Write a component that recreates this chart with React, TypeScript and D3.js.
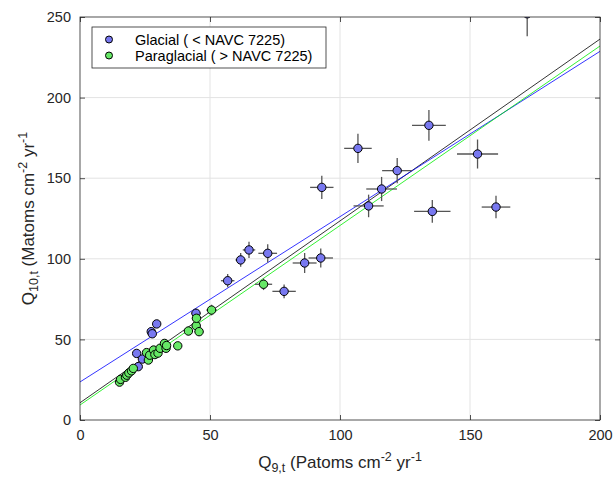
import React, { useRef, useEffect } from 'react';
import * as d3 from 'd3';

// glacial points: x, y, x error, y error
const glacialX = [21.8, 22.4, 24.0, 27.4, 27.8, 29.5, 44.6, 56.8, 61.8, 65.0, 72.2, 78.5, 86.4, 92.6, 93.0, 106.9, 111.0, 116.0, 122.0, 134.2, 135.5, 152.9, 160.0, 172.0];
const glacialY = [41.3, 33.1, 37.8, 54.8, 53.5, 59.6, 66.2, 86.4, 99.3, 105.5, 103.4, 79.8, 97.4, 100.5, 144.3, 168.5, 132.8, 143.3, 154.7, 182.8, 129.4, 165.0, 132.1, 252.0];
const glacialXErr = [1.0, 1.0, 1.0, 1.2, 1.2, 1.2, 1.8, 2.6, 2.0, 2.4, 3.6, 4.5, 4.6, 4.7, 4.5, 5.3, 5.8, 5.9, 5.8, 6.5, 7.0, 7.9, 5.5, 7.0];
const glacialYErr = [2.0, 2.0, 2.0, 2.5, 2.5, 2.5, 3.0, 4.1, 4.3, 5.0, 5.7, 4.3, 6.2, 5.9, 7.2, 9.0, 7.0, 7.5, 7.8, 9.5, 7.0, 9.0, 7.0, 14.0];

// paraglacial points
const paraX = [15.2, 15.6, 17.5, 18.0, 18.8, 19.8, 20.5, 25.6, 26.3, 26.8, 28.3, 28.8, 30.0, 30.8, 32.5, 33.1, 33.3, 37.6, 41.7, 44.7, 44.8, 45.8, 50.6, 70.6];
const paraY = [23.5, 25.2, 26.5, 27.8, 29.2, 30.5, 32.0, 41.8, 37.2, 40.2, 43.4, 40.6, 41.5, 44.5, 47.5, 44.5, 46.2, 46.0, 55.2, 58.5, 63.1, 54.8, 68.2, 84.2];
const paraXErr = [0.6, 0.6, 0.7, 0.7, 0.8, 0.8, 0.8, 1.0, 1.0, 1.0, 1.1, 1.1, 1.2, 1.2, 1.3, 1.3, 1.3, 1.5, 1.7, 1.8, 1.8, 1.8, 2.0, 3.3];
const paraYErr = [1.2, 1.2, 1.3, 1.4, 1.5, 1.5, 1.6, 2.0, 1.8, 2.0, 2.1, 2.0, 2.0, 2.2, 2.3, 2.2, 2.3, 2.3, 2.7, 2.9, 3.1, 2.7, 3.3, 3.6];

// fitted lines: black (all), blue (glacial), green (paraglacial)
const fitNames = ['all', 'glacial', 'paraglacial'];
const fitIntercepts = [10.7, 23.6, 9.3];
const fitSlopes = [1.128, 1.0255, 1.1135];
const fitColors = ['#000000', '#0000ff', '#00ee00'];

const xTicks = [0, 50, 100, 150, 200];
const yTicks = [0, 50, 100, 150, 200, 250];
const legendLabels = ['Glacial ( < NAVC 7225)', 'Paraglacial ( > NAVC 7225)'];
const seriesFill = ['#7878f0', '#66e866'];

const W = 616, H = 478;
const m = { left: 80, right: 16, top: 17, bottom: 58 };

export default function App() {
    const svgRef = useRef<SVGSVGElement | null>(null);

    useEffect(() => {
        const svg = d3.select(svgRef.current);
        svg.selectAll('*').remove();

        const x = d3.scaleLinear().domain([0, 200]).range([m.left, W - m.right]);
        const y = d3.scaleLinear().domain([0, 250]).range([H - m.bottom, m.top]);
        const font = 'Liberation Sans, Arial, Helvetica, sans-serif';
        const axisColor = '#262626';

        svg.append('clipPath').attr('id', 'plot-clip').append('rect')
            .attr('x', m.left).attr('y', m.top)
            .attr('width', x(200) - x(0)).attr('height', y(0) - y(250));

        // grid
        const grid = svg.append('g');
        grid.selectAll('.gx').data(xTicks.slice(1, -1)).join('line')
            .attr('x1', (d) => x(d)).attr('x2', (d) => x(d))
            .attr('y1', y(0)).attr('y2', y(250))
            .attr('stroke', '#e3e3e3').attr('stroke-width', 1);
        grid.selectAll('.gy').data(yTicks.slice(1, -1)).join('line')
            .attr('y1', (d) => y(d)).attr('y2', (d) => y(d))
            .attr('x1', x(0)).attr('x2', x(200))
            .attr('stroke', '#e3e3e3').attr('stroke-width', 1);

        const plot = svg.append('g').attr('clip-path', 'url(#plot-clip)');

        // fit lines
        plot.selectAll('.fit').data(fitNames).join('line')
            .attr('x1', x(0)).attr('x2', x(200))
            .attr('y1', (_, i) => y(fitIntercepts[i]))
            .attr('y2', (_, i) => y(fitIntercepts[i] + fitSlopes[i] * 200))
            .attr('stroke', (_, i) => fitColors[i])
            .attr('stroke-width', 0.8);

        const series = [
            { xs: glacialX, ys: glacialY, xe: glacialXErr, ye: glacialYErr, fill: seriesFill[0] },
            { xs: paraX, ys: paraY, xe: paraXErr, ye: paraYErr, fill: seriesFill[1] },
        ];

        series.forEach((s) => {
            const idx = d3.range(s.xs.length);
            const eb = plot.append('g').attr('stroke', '#555').attr('stroke-width', 1.3);
            eb.selectAll('.h').data(idx).join('line')
                .attr('x1', (i) => x(s.xs[i] - s.xe[i])).attr('x2', (i) => x(s.xs[i] + s.xe[i]))
                .attr('y1', (i) => y(s.ys[i])).attr('y2', (i) => y(s.ys[i]));
            eb.selectAll('.v').data(idx).join('line')
                .attr('x1', (i) => x(s.xs[i])).attr('x2', (i) => x(s.xs[i]))
                .attr('y1', (i) => y(s.ys[i] - s.ye[i])).attr('y2', (i) => y(s.ys[i] + s.ye[i]));
        });

        series.forEach((s) => {
            plot.append('g').selectAll('circle').data(d3.range(s.xs.length)).join('circle')
                .attr('cx', (i) => x(s.xs[i])).attr('cy', (i) => y(s.ys[i]))
                .attr('r', 4.2)
                .attr('fill', s.fill).attr('stroke', '#000').attr('stroke-width', 1);
        });

        // axes box
        const box = svg.append('g');
        box.append('rect')
            .attr('x', x(0)).attr('y', y(250))
            .attr('width', x(200) - x(0)).attr('height', y(0) - y(250))
            .attr('fill', 'none').attr('stroke', axisColor).attr('stroke-width', 0.8);

        const xAxis = d3.axisBottom(x).tickValues(xTicks).tickSize(-5).tickPadding(10);
        const gx = svg.append('g').attr('transform', `translate(0,${y(0)})`).call(xAxis);
        const xTop = d3.axisTop(x).tickValues(xTicks).tickSize(-5).tickFormat(() => '');
        const gxt = svg.append('g').attr('transform', `translate(0,${y(250)})`).call(xTop);
        const yAxis = d3.axisLeft(y).tickValues(yTicks).tickSize(-5).tickPadding(9);
        const gy = svg.append('g').attr('transform', `translate(${x(0)},0)`).call(yAxis);
        const yRight = d3.axisRight(y).tickValues(yTicks).tickSize(-5).tickFormat(() => '');
        const gyr = svg.append('g').attr('transform', `translate(${x(200)},0)`).call(yRight);

        [gx, gxt, gy, gyr].forEach((g) => {
            g.select('.domain').remove();
            g.selectAll('line').attr('stroke', axisColor).attr('stroke-width', 0.8);
            g.selectAll('text').attr('font-family', font).attr('font-size', 14.5).attr('fill', axisColor);
        });

        // axis labels
        const xl = svg.append('text')
            .attr('x', (x(0) + x(200)) / 2).attr('y', 468)
            .attr('text-anchor', 'middle').attr('font-family', font).attr('font-size', 17).attr('fill', axisColor);
        xl.append('tspan').text('Q');
        xl.append('tspan').attr('font-size', 12.5).attr('dy', 4).text('9,t');
        xl.append('tspan').attr('dy', -4).text(' (Patoms cm');
        xl.append('tspan').attr('font-size', 12.5).attr('dy', -7).text('-2');
        xl.append('tspan').attr('dy', 7).text(' yr');
        xl.append('tspan').attr('font-size', 12.5).attr('dy', -7).text('-1');

        const yl = svg.append('text')
            .attr('transform', `translate(34,${(y(0) + y(250)) / 2}) rotate(-90)`)
            .attr('text-anchor', 'middle').attr('font-family', font).attr('font-size', 17).attr('fill', axisColor);
        yl.append('tspan').text('Q');
        yl.append('tspan').attr('font-size', 12.5).attr('dy', 4).text('10,t');
        yl.append('tspan').attr('dy', -4).text(' (Matoms cm');
        yl.append('tspan').attr('font-size', 12.5).attr('dy', -7).text('-2');
        yl.append('tspan').attr('dy', 7).text(' yr');
        yl.append('tspan').attr('font-size', 12.5).attr('dy', -7).text('-1');

        // legend
        const lg = svg.append('g').attr('transform', 'translate(92,27)');
        lg.append('rect').attr('width', 234).attr('height', 41)
            .attr('fill', '#fff').attr('stroke', axisColor).attr('stroke-width', 0.8);
        legendLabels.forEach((lab, i) => {
            const row = lg.append('g').attr('transform', `translate(0,${12.5 + i * 16})`);
            row.append('circle').attr('cx', 17).attr('cy', 0).attr('r', 3.5)
                .attr('fill', seriesFill[i]).attr('stroke', '#000').attr('stroke-width', 1);
            row.append('text').attr('x', 43).attr('y', 5)
                .attr('font-family', font).attr('font-size', 14.5).attr('fill', '#000').text(lab);
        });
    }, []);

    return (
        <div>
            <svg ref={svgRef} width={W} height={H} style={{ position: 'absolute', left: 0, top: 0 }} />
        </div>
    );
}
